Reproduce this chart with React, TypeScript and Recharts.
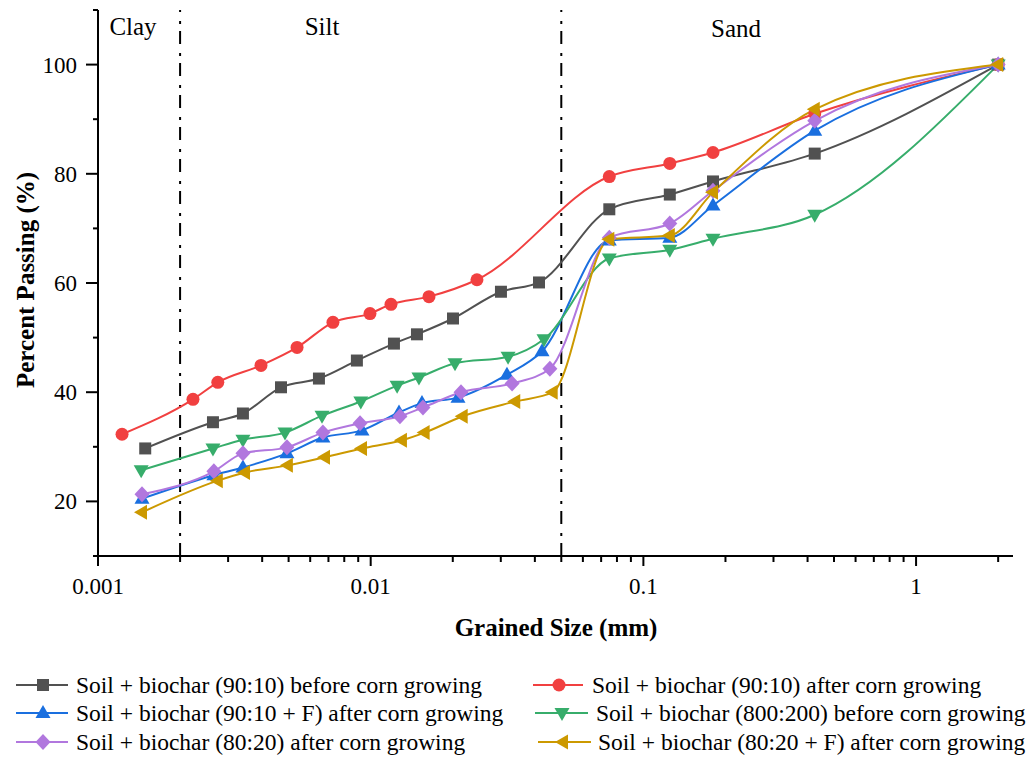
import React from 'react';
import { LineChart, Line, XAxis, YAxis, ReferenceLine } from 'recharts';

// grain size (mm) and percent passing for each mix
const sizes9010Before = [0.00149, 0.00264, 0.0034, 0.00469, 0.00646, 0.0089, 0.01217, 0.01478, 0.02004, 0.03004, 0.04142, 0.075, 0.125, 0.18, 0.425, 2.0];
const pass9010Before = [29.7, 34.5, 36.1, 40.9, 42.5, 45.8, 48.9, 50.6, 53.5, 58.4, 60.1, 73.5, 76.2, 78.6, 83.7, 100];

const sizes9010After = [0.001225, 0.00223, 0.00275, 0.00396, 0.00537, 0.00727, 0.00994, 0.01187, 0.01636, 0.02453, 0.075, 0.125, 0.18, 0.425, 2.0];
const pass9010After = [32.3, 38.7, 41.8, 44.9, 48.2, 52.8, 54.4, 56.1, 57.5, 60.6, 79.5, 81.9, 83.9, 91.0, 100];

const sizes9010F = [0.00145, 0.00266, 0.0034, 0.00493, 0.00668, 0.00929, 0.0127, 0.01542, 0.0209, 0.0316, 0.0425, 0.075, 0.125, 0.18, 0.425, 2.0];
const pass9010F = [20.5, 24.8, 26.2, 28.8, 31.7, 33.0, 36.3, 38.0, 39.0, 43.2, 47.5, 67.8, 68.3, 74.2, 87.9, 100];

const sizes800200 = [0.00144, 0.00264, 0.0034, 0.00485, 0.00663, 0.0092, 0.0125, 0.01503, 0.02038, 0.0319, 0.0432, 0.075, 0.125, 0.18, 0.425, 2.0];
const pass800200 = [25.7, 29.7, 31.3, 32.6, 35.7, 38.3, 41.2, 42.7, 45.3, 46.5, 49.7, 64.5, 66.1, 68.1, 72.5, 100];

const sizes8020 = [0.00145, 0.00266, 0.0034, 0.00493, 0.00668, 0.00914, 0.0128, 0.01555, 0.02144, 0.033, 0.0454, 0.075, 0.125, 0.18, 0.425, 2.0];
const pass8020 = [21.3, 25.5, 28.8, 29.9, 32.6, 34.3, 35.6, 37.2, 40.0, 41.6, 44.3, 68.3, 70.9, 76.9, 89.7, 100];

const sizes8020F = [0.00145, 0.00275, 0.00346, 0.00497, 0.0068, 0.00929, 0.01302, 0.01577, 0.02175, 0.0339, 0.0465, 0.075, 0.125, 0.18, 0.425, 2.0];
const pass8020F = [18.0, 23.8, 25.3, 26.6, 28.1, 29.7, 31.2, 32.6, 35.6, 38.3, 40.0, 68.0, 68.7, 76.6, 91.8, 100];

const xTicks = [
  0.001, 0.002, 0.003, 0.004, 0.005, 0.006, 0.007, 0.008, 0.009,
  0.01, 0.02, 0.03, 0.04, 0.05, 0.06, 0.07, 0.08, 0.09,
  0.1, 0.2, 0.3, 0.4, 0.5, 0.6, 0.7, 0.8, 0.9,
  1, 2,
];
const xMajorLabels: Record<string, string> = { '0.001': '0.001', '0.01': '0.01', '0.1': '0.1', '1': '1' };
const yTicks = [10, 20, 30, 40, 50, 60, 70, 80, 90, 100, 110];
const yLabelled = [20, 40, 60, 80, 100];

const zones = [
  { name: 'Clay', x: 133, y: 35 },
  { name: 'Silt', x: 322, y: 35 },
  { name: 'Sand', x: 736, y: 37 },
];

const FONT = 'Liberation Serif, Tinos, Times New Roman, serif';

type Shape = 'square' | 'circle' | 'up' | 'down' | 'diamond' | 'left';

const series = [
  { name: 'Soil + biochar (90:10) before corn growing', sizes: sizes9010Before, pass: pass9010Before, color: '#515151', shape: 'square' as Shape },
  { name: 'Soil + biochar (90:10) after corn growing', sizes: sizes9010After, pass: pass9010After, color: '#F14040', shape: 'circle' as Shape },
  { name: 'Soil + biochar (90:10 + F) after corn growing', sizes: sizes9010F, pass: pass9010F, color: '#1A6FDF', shape: 'up' as Shape },
  { name: 'Soil + biochar (800:200) before corn growing', sizes: sizes800200, pass: pass800200, color: '#37AD6B', shape: 'down' as Shape },
  { name: 'Soil + biochar (80:20) after corn growing', sizes: sizes8020, pass: pass8020, color: '#B177DE', shape: 'diamond' as Shape },
  { name: 'Soil + biochar (80:20 + F) after corn growing', sizes: sizes8020F, pass: pass8020F, color: '#CC9900', shape: 'left' as Shape },
];

function Marker({ shape, cx, cy, color }: { shape: Shape; cx: number; cy: number; color: string }) {
  if (shape === 'circle') return <circle cx={cx} cy={cy} r={6.5} fill={color} />;
  let d = '';
  if (shape === 'square') d = `M${cx - 6},${cy - 6}h12v12h-12Z`;
  if (shape === 'up') d = `M${cx},${cy - 8}L${cx + 7.5},${cy + 5}L${cx - 7.5},${cy + 5}Z`;
  if (shape === 'down') d = `M${cx},${cy + 8}L${cx + 7.5},${cy - 5}L${cx - 7.5},${cy - 5}Z`;
  if (shape === 'diamond') d = `M${cx},${cy - 8}L${cx + 7.5},${cy}L${cx},${cy + 8}L${cx - 7.5},${cy}Z`;
  if (shape === 'left') d = `M${cx - 8},${cy}L${cx + 5},${cy - 7.5}L${cx + 5},${cy + 7.5}Z`;
  return <path d={d} fill={color} />;
}

const XTick = (props: any) => {
  const { x, y, payload } = props;
  const label = xMajorLabels[String(payload.value)];
  return (
    <g>
      <line x1={x} y1={y} x2={x} y2={y + (label ? 10 : 6)} stroke="#000" strokeWidth={2} />
      {label && (
        <text x={x} y={y + 38} textAnchor="middle" style={{ fontFamily: FONT }} fontSize={23} fill="#000">
          {label}
        </text>
      )}
    </g>
  );
};

const YTick = (props: any) => {
  const { x, y, payload } = props;
  const major = yLabelled.includes(payload.value);
  return (
    <g>
      <line x1={x} y1={y} x2={x - (major ? 12 : 5)} y2={y} stroke="#000" strokeWidth={2} />
      {major && (
        <text x={x - 21} y={y + 8} textAnchor="end" style={{ fontFamily: FONT }} fontSize={23} fill="#000">
          {payload.value}
        </text>
      )}
    </g>
  );
};

const legendPos = [
  { line: [16, 68], mark: 43, text: 76, y: 685 },
  { line: [533, 583], mark: 559, text: 592, y: 685 },
  { line: [16, 68], mark: 43, text: 76, y: 713 },
  { line: [535, 588], mark: 562, text: 596, y: 713 },
  { line: [16, 68], mark: 43, text: 76, y: 742 },
  { line: [538, 591], mark: 563, text: 598, y: 742 },
];

export default function App() {
  return (
    <div style={{ position: 'absolute', left: 0, top: 0, width: 1030, height: 758, background: '#fff', fontFamily: FONT }}>
      <LineChart width={1030} height={758} margin={{ top: 10, right: 17, left: 38, bottom: 172 }}>
        <XAxis
          dataKey="d"
          type="number"
          scale="log"
          domain={[0.001, 2.267]}
          allowDataOverflow
          ticks={xTicks}
          interval={0}
          height={30}
          tickSize={0}
          tickMargin={0}
          tick={<XTick />}
          axisLine={{ stroke: '#000', strokeWidth: 2 }}
        />
        <YAxis
          type="number"
          domain={[10, 110]}
          ticks={yTicks}
          interval={0}
          width={60}
          tickSize={0}
          tickMargin={0}
          tick={<YTick />}
          axisLine={{ stroke: '#000', strokeWidth: 2 }}
        />
        <ReferenceLine x={0.002} stroke="#000" strokeWidth={2} strokeDasharray="13 7 3 9" />
        <ReferenceLine x={0.05} stroke="#000" strokeWidth={2} strokeDasharray="13 7 3 9" />
        {series.map((s) => (
          <Line
            key={s.name}
            name={s.name}
            data={s.sizes.map((d, i) => ({ d, p: s.pass[i] }))}
            dataKey="p"
            type="monotone"
            stroke={s.color}
            strokeWidth={2}
            isAnimationActive={false}
            activeDot={false}
            dot={(p: any) => <Marker key={`${s.shape}-${p.index}`} shape={s.shape} cx={p.cx} cy={p.cy} color={s.color} />}
          />
        ))}
      </LineChart>
      <svg width={1030} height={758} style={{ position: 'absolute', left: 0, top: 0, pointerEvents: 'none', fontFamily: FONT }}>
        {zones.map((z) => (
          <text key={z.name} x={z.x} y={z.y} textAnchor="middle" fontSize={25} fill="#000">
            {z.name}
          </text>
        ))}
        <text
          x={0}
          y={0}
          transform="translate(25,280) rotate(-90)"
          textAnchor="middle"
          dominantBaseline="central"
          fontWeight="bold"
          fontSize={25}
          fill="#000"
        >
          Percent Passing (%)
        </text>
        <text x={556} y={636} textAnchor="middle" fontWeight="bold" fontSize={25} fill="#000">
          Grained Size (mm)
        </text>
        {series.map((s, i) => {
          const L = legendPos[i];
          return (
            <g key={s.name}>
              <line x1={L.line[0]} y1={L.y} x2={L.line[1]} y2={L.y} stroke={s.color} strokeWidth={2} />
              <Marker shape={s.shape} cx={L.mark} cy={L.y} color={s.color} />
              <text x={L.text} y={L.y + 8} fontSize={23.5} fill="#000">
                {s.name}
              </text>
            </g>
          );
        })}
      </svg>
    </div>
  );
}
